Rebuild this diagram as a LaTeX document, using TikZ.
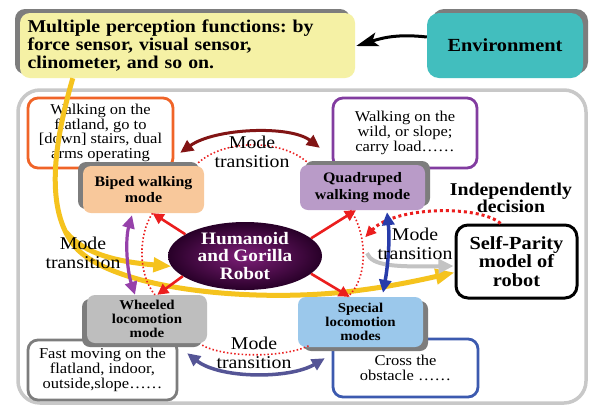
\documentclass[tikz,border=0pt]{standalone}
\usepackage{fontspec}
\setmainfont{Liberation Serif}[FakeStretch=1.1]
\usetikzlibrary{arrows.meta,shadows,calc,shapes.geometric}
\frenchspacing
\definecolor{yelF}{RGB}{245,241,165}
\definecolor{tealF}{RGB}{66,190,190}
\definecolor{shgray}{RGB}{125,125,125}
\definecolor{frameG}{RGB}{200,200,200}
\definecolor{orangeB}{RGB}{240,100,40}
\definecolor{peachF}{RGB}{248,200,155}
\definecolor{purpleB}{RGB}{130,60,160}
\definecolor{lavF}{RGB}{185,155,200}
\definecolor{wheelF}{RGB}{190,190,190}
\definecolor{grayB}{RGB}{125,125,125}
\definecolor{lblueF}{RGB}{155,200,235}
\definecolor{blueB}{RGB}{60,90,175}
\definecolor{ellIn}{RGB}{125,30,120}
\definecolor{ellOut}{RGB}{40,0,40}
\definecolor{redC}{RGB}{235,30,30}
\definecolor{dkredC}{RGB}{130,20,20}
\definecolor{purC}{RGB}{150,65,170}
\definecolor{bluC}{RGB}{40,60,170}
\definecolor{navC}{RGB}{85,85,150}
\definecolor{grayAC}{RGB}{195,195,195}
\definecolor{yelC}{RGB}{245,195,30}
\begin{document}
\begin{tikzpicture}[x=1pt,y=-1pt,
  txtbox/.style={draw, line width=2.8pt, rounded corners=10pt, fill=white, align=center, inner sep=0pt, font=\fontsize{15}{14.7}\selectfont},
  modebox/.style={rounded corners=8pt, align=center, inner sep=0pt},
  shd/.style 2 args={general shadow={fill=shgray, shadow xshift=#1, shadow yshift=#2}},
  mtlabel/.style={align=center, inner sep=0pt, font=\fontsize{18}{18.5}\selectfont},
  arrRed/.style={draw=redC, line width=2.6pt, -{Triangle[length=11pt,width=11pt]}},
  dotR/.style={draw=redC, line width=1.6pt, dash pattern=on 1.5pt off 2.2pt},
  dotRT/.style={draw=redC, line width=3pt, dash pattern=on 3pt off 3pt},
  arrYel/.style={draw=yelC, line width=5pt, -{Triangle[length=19pt,width=15pt]}},
  arrGray/.style={draw=grayAC, line width=4pt, -{Triangle[length=15pt,width=14pt]}},
  dblarr/.style={line width=3.2pt, {Triangle[length=13pt,width=12pt]}-{Triangle[length=13pt,width=12pt]}}
]
\useasboundingbox (0,0) rectangle (596,408);
\fill[white] (0,0) rectangle (596,408);

% frame
\node[draw=frameG, line width=3.5pt, rounded corners=22pt, minimum width=568pt, minimum height=313pt, inner sep=0pt] (frame) at (302,246.5) {};

% description boxes
\node[txtbox, draw=orangeB, minimum width=145pt, minimum height=70pt] (flat) at (100.5,133) {Walking on the\\flatland, go to\\{[down]} stairs, dual\\arms operating};
\node[txtbox, draw=purpleB, minimum width=144pt, minimum height=70pt] (wild) at (405,133) {Walking on the\\wild, or slope;\\carry load……};
\node[txtbox, draw=grayB, minimum width=149pt, minimum height=60pt] (fast) at (102.5,370) {Fast moving on the\\flatland, indoor,\\outside,slope……};
\node[txtbox, draw=blueB, minimum width=145pt, minimum height=58pt] (cross) at (405.5,368) {Cross the\\obstacle ……};

% self parity
\node[draw, line width=3pt, rounded corners=12pt, fill=white, minimum width=121pt, minimum height=73pt, inner sep=0pt, align=center, font=\bfseries\fontsize{18.5}{18.7}\selectfont] (self) at (516.5,261.5) {Self-Parity\\model of\\robot};
\node[inner sep=0pt, align=center, font=\bfseries\fontsize{18}{16.5}\selectfont] (indep) at (511,198) {Independently\\decision};

% top boxes
\node[fill=yelF, rounded corners=10pt, shd={-5pt}{4pt}, minimum width=335pt, minimum height=65pt, text width=320pt, align=left, inner sep=0pt, font=\bfseries\fontsize{18}{18}\selectfont] (percep) at (187.5,45.5) {Multiple perception functions: by\\force sensor, visual sensor,\\clinometer, and so on.};
\node[fill=tealF, rounded corners=12pt, shd={5pt}{4pt}, minimum width=156pt, minimum height=65pt, inner sep=0pt, font=\bfseries\fontsize{18.5}{18.5}\selectfont] (env) at (505,45.5) {Environment};

% yellow perception line
\draw[arrYel] ($(percep.south west)+(53,0)$) .. controls (52,150) and (45,215) .. (78,250) .. controls (120,290) and (250,302) .. (345,292) .. controls (390,287) and (420,280) .. ($(self.west)+(0,11)$);
\coordinate (ybr) at (66,232);

% mode boxes
\node[modebox, fill=peachF, shd={-5pt}{4pt}, minimum width=121pt, minimum height=47pt, font=\bfseries\fontsize{14.5}{16.7}\selectfont] (biped) at (143.5,189.5) {Biped walking\\mode};
\node[modebox, fill=lavF, shd={5pt}{4pt}, minimum width=125pt, minimum height=45pt, font=\bfseries\fontsize{14.5}{17}\selectfont] (quad) at (362.5,187.5) {Quadruped\\walking mode};
\node[modebox, fill=wheelF, shd={-5pt}{-4pt}, minimum width=120pt, minimum height=48pt, font=\bfseries\fontsize{13.5}{14}\selectfont] (wheel) at (147,319) {Wheeled\\locomotion\\mode};
\node[modebox, fill=lblueF, shd={5pt}{-4pt}, minimum width=125pt, minimum height=50pt, font=\bfseries\fontsize{13.5}{14}\selectfont] (special) at (360.5,322) {Special\\locomotion\\modes};

% robot
\node[ellipse, minimum width=154pt, minimum height=68pt, inner sep=0pt, shading=radial, inner color=ellIn, outer color=ellOut, text=white, align=center, font=\bfseries\fontsize{17.5}{17.3}\selectfont] (robot) at (245,256) {Humanoid\\and Gorilla\\Robot};
\draw[arrYel, -{Triangle[length=18pt,width=14pt]}] (ybr) .. controls (85,255) and (120,262) .. (robot.188);

% environment arrow
\draw[black, line width=3pt, -{Stealth[length=22pt,width=14pt,inset=5pt]}] ($(env.west)+(0,-8.5)$) .. controls (400,34) and (385,37) .. ($(percep.east)+(1,0.5)$);

% red dotted ring
\draw[dotR] ($(biped.north east)+(-6,-3)$) .. controls (225,139) and (280,139) .. ($(quad.north west)+(7,-3)$);
\draw[dotR] ($(biped.south)+(9,0)$) .. controls (138,235) and (138,275) .. ($(wheel.north)+(8,0)$);
\draw[dotR] ($(quad.south)+(-12,0)$) .. controls (368,235) and (368,280) .. ($(special.north)+(-13,0)$);
\draw[dotR] ($(wheel.south east)+(-5,2)$) .. controls (225,358) and (285,358) .. ($(special.south west)+(12,-2)$);

% independent decision arc
\draw[dotRT, -{Triangle[length=11pt,width=10pt]}] ($(self.north)+(-16,0)$) .. controls (480,205) and (395,206) .. ($(quad.south east)+(-60,27)$);

% gray arrow
\draw[arrGray] ($(quad.south)+(4.5,43)$) .. controls (372,266) and (395,267) .. ($(self.west)+(-1,4.5)$);

% robot to modes
\draw[arrRed] (robot.160) -- (biped.-69);
\draw[arrRed] (robot.15) -- (quad.-106);
\draw[arrRed] (robot.-162) -- (wheel.67);
\draw[arrRed] (robot.-15) -- (special.113);

% mode transitions
\draw[dblarr, draw=dkredC, line width=3pt] ($(biped.north east)+(-24,-13)$) .. controls (215,128) and (290,125) .. ($(quad.north west)+(20,-17)$);
\draw[dblarr, draw=purC] ($(biped.south)+(-11.5,2)$) .. controls (125,240) and (127,270) .. ($(wheel.north)+(-12,0)$);
\draw[dblarr, draw=bluC, line width=3.5pt] ($(quad.south)+(24.5,2)$) .. controls (390,240) and (388,265) .. ($(special.north)+(22.5,-4)$);
\draw[dblarr, draw=navC, line width=3.5pt] ($(wheel.south east)+(-20,10)$) .. controls (220,379) and (290,379) .. ($(special.south west)+(27,11)$);

% labels
\node[mtlabel] (mt1) at (252,152) {Mode\\transition};
\node[mtlabel] (mt2) at (83,253) {Mode\\transition};
\node[mtlabel] (mt3) at (415,244) {Mode\\transition};
\node[mtlabel] (mt4) at (254,353) {Mode\\transition};
\end{tikzpicture}
\end{document}
